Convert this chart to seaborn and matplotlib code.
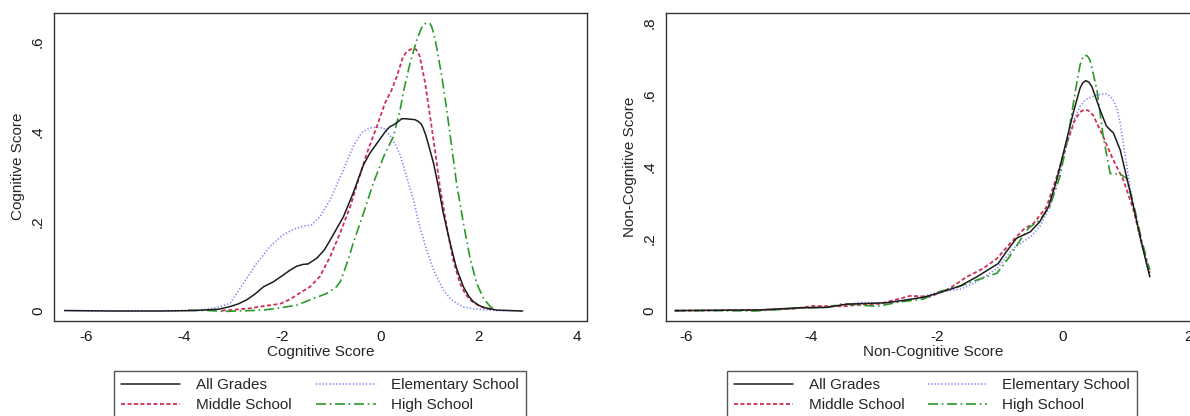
import numpy as np
import pandas as pd
import matplotlib
matplotlib.use("Agg")
import matplotlib.pyplot as plt
import seaborn as sns

# ---- Cognitive score densities (left panel) ----
cog_all_x = [-6.45, -5.5, -4.5, -3.8, -3.3, -3.07, -2.9, -2.73, -2.55, -2.39, -2.19, -1.99, -1.85,
             -1.71, -1.58, -1.48, -1.30, -1.15, -1.03, -0.76, -0.56, -0.35, -0.22, -0.05, 0.12,
             0.20, 0.26, 0.35, 0.43, 0.52, 0.60, 0.70, 0.77, 0.83, 0.87, 0.92, 0.97, 1.08, 1.18,
             1.28, 1.42, 1.55, 1.69, 1.80, 1.89, 2.00, 2.10, 2.37, 2.90]
cog_all_y = [0.001, 0.0, 0.0, 0.001, 0.004, 0.010, 0.016, 0.025, 0.039, 0.054, 0.065, 0.080, 0.091,
             0.100, 0.104, 0.105, 0.118, 0.136, 0.158, 0.210, 0.263, 0.326, 0.352, 0.378, 0.404,
             0.412, 0.415, 0.422, 0.429, 0.429, 0.428, 0.427, 0.423, 0.417, 0.408, 0.393, 0.374,
             0.330, 0.277, 0.218, 0.151, 0.095, 0.054, 0.033, 0.021, 0.013, 0.008, 0.002, 0.0]

cog_elem_x = [-6.45, -5.5, -4.5, -3.8, -3.4, -3.07, -2.80, -2.53, -2.26, -1.99, -1.85, -1.71,
              -1.55, -1.41, -1.24, -1.03, -0.76, -0.56, -0.39, -0.25, -0.15, -0.05, 0.06, 0.19,
              0.30, 0.40, 0.53, 0.67, 0.80, 0.94, 1.08, 1.28, 1.42, 1.55, 1.70, 1.89, 2.37, 2.90]
cog_elem_y = [0.001, 0.0, 0.0, 0.001, 0.006, 0.017, 0.062, 0.106, 0.144, 0.170, 0.178, 0.185,
              0.190, 0.192, 0.210, 0.248, 0.315, 0.367, 0.398, 0.407, 0.410, 0.410, 0.408, 0.392,
              0.372, 0.348, 0.300, 0.248, 0.188, 0.136, 0.092, 0.047, 0.028, 0.017, 0.009, 0.005,
              0.001, 0.0]

cog_mid_x = [-3.24, -3.07, -2.67, -2.39, -2.05, -1.85, -1.71, -1.44, -1.24, -1.03, -0.83, -0.62,
             -0.42, -0.28, -0.08, 0.09, 0.22, 0.33, 0.46, 0.53, 0.60, 0.66, 0.72, 0.76, 0.80,
             0.91, 1.01, 1.11, 1.21, 1.35, 1.48, 1.62, 1.72, 1.82, 2.03, 2.30]
cog_mid_y = [0.001, 0.002, 0.006, 0.011, 0.016, 0.026, 0.036, 0.054, 0.077, 0.121, 0.173, 0.233,
             0.304, 0.352, 0.411, 0.464, 0.492, 0.523, 0.568, 0.578, 0.583, 0.586, 0.584, 0.578,
             0.568, 0.508, 0.434, 0.359, 0.277, 0.188, 0.114, 0.062, 0.040, 0.025, 0.010, 0.002]

cog_high_x = [-3.93, -3.5, -3.2, -2.9, -2.39, -2.05, -1.71, -1.37, -1.10, -0.90, -0.82, -0.76,
              -0.66, -0.56, -0.35, -0.15, 0.06, 0.26, 0.33, 0.40, 0.46, 0.60, 0.74, 0.82, 0.87,
              0.92, 0.97, 1.01, 1.04, 1.09, 1.14, 1.25, 1.35, 1.45, 1.55, 1.69, 1.82, 1.96, 2.10,
              2.23, 2.30]
cog_high_y = [0.002, 0.001, -0.001, 0.0, 0.002, 0.007, 0.013, 0.028, 0.039, 0.054, 0.066, 0.084,
              0.115, 0.151, 0.218, 0.285, 0.344, 0.389, 0.419, 0.450, 0.486, 0.553, 0.605, 0.628,
              0.638, 0.642, 0.643, 0.641, 0.635, 0.617, 0.590, 0.523, 0.449, 0.367, 0.285, 0.196,
              0.121, 0.062, 0.028, 0.011, 0.005]

# ---- Non-cognitive score densities (right panel) ----
non_all_x = [-6.17, -5.5, -4.82, -4.18, -3.76, -3.44, -3.12, -2.80, -2.48, -2.22, -1.96, -1.64,
             -1.37, -1.03, -0.90, -0.74, -0.52, -0.37, -0.23, -0.10, 0.03, 0.16, 0.27, 0.31,
             0.36, 0.41, 0.46, 0.59, 0.69, 0.75, 0.80, 0.91, 1.01, 1.12, 1.25, 1.38]
non_all_y = [0.001, 0.002, 0.003, 0.009, 0.010, 0.019, 0.021, 0.023, 0.031, 0.038, 0.051, 0.069,
             0.095, 0.132, 0.165, 0.202, 0.220, 0.248, 0.290, 0.364, 0.456, 0.549, 0.619, 0.633,
             0.640, 0.636, 0.623, 0.558, 0.514, 0.503, 0.495, 0.447, 0.373, 0.290, 0.188, 0.095]

non_elem_x = [-6.17, -5.5, -4.82, -4.18, -3.76, -3.44, -3.2, -2.91, -2.6, -2.22, -1.96, -1.64,
              -1.37, -1.05, -0.79, -0.52, -0.37, -0.21, -0.07, 0.06, 0.19, 0.27, 0.35, 0.45, 0.54,
              0.62, 0.69, 0.75, 0.80, 0.86, 0.91, 0.99, 1.09, 1.22, 1.38]
non_elem_y = [0.001, 0.002, 0.003, 0.008, 0.010, 0.018, 0.024, 0.022, 0.028, 0.040, 0.054, 0.060,
              0.081, 0.118, 0.174, 0.206, 0.234, 0.290, 0.373, 0.466, 0.540, 0.568, 0.586, 0.595,
              0.600, 0.603, 0.603, 0.597, 0.586, 0.560, 0.521, 0.429, 0.318, 0.206, 0.095]

non_mid_x = [-6.17, -5.5, -4.82, -4.3, -3.97, -3.5, -3.2, -2.91, -2.43, -2.11, -1.80, -1.53,
             -1.27, -1.05, -0.84, -0.62, -0.47, -0.26, -0.10, 0.06, 0.19, 0.27, 0.35, 0.41, 0.48,
             0.64, 0.80, 0.96, 1.12, 1.25, 1.38]
non_mid_y = [0.001, 0.002, 0.003, 0.006, 0.014, 0.013, 0.018, 0.020, 0.042, 0.040, 0.063, 0.095,
             0.118, 0.146, 0.188, 0.228, 0.243, 0.290, 0.373, 0.466, 0.531, 0.553, 0.560, 0.556,
             0.544, 0.484, 0.419, 0.364, 0.281, 0.188, 0.105]

non_high_x = [-6.17, -5.5, -4.9, -4.5, -4.18, -3.76, -3.5, -3.2, -2.95, -2.6, -2.22, -1.96,
              -1.64, -1.37, -1.05, -0.87, -0.68, -0.55, -0.37, -0.21, -0.05, 0.08, 0.19, 0.27,
              0.31, 0.35, 0.39, 0.43, 0.54, 0.64, 0.75, 0.91, 1.01, 1.12, 1.25, 1.38]
non_high_y = [0.001, 0.001, 0.0, 0.004, 0.009, 0.010, 0.020, 0.016, 0.013, 0.025, 0.033, 0.054,
              0.069, 0.086, 0.105, 0.146, 0.197, 0.230, 0.253, 0.290, 0.373, 0.484, 0.605, 0.683,
              0.703, 0.711, 0.708, 0.697, 0.614, 0.484, 0.382, 0.380, 0.369, 0.299, 0.197, 0.114]

groups = ["All Grades", "Middle School", "Elementary School", "High School"]
left_ticks_x = [-6, -4, -2, 0, 2, 4]
left_ticks_y = [0, 0.2, 0.4, 0.6]
left_tick_labels_y = ["0", ".2", ".4", ".6"]
right_ticks_x = [-6, -4, -2, 0, 2]
right_ticks_y = [0, 0.2, 0.4, 0.6, 0.8]
right_tick_labels_y = ["0", ".2", ".4", ".6", ".8"]

styles = {
    "All Grades": dict(color="#1c1c1c", linestyle="-", linewidth=1.1),
    "Middle School": dict(color="#cf2f55", linestyle=(0, (2.2, 1.4)), linewidth=1.3),
    "Elementary School": dict(color="#8585ff", linestyle=(0, (0.8, 1.2)), linewidth=1.2),
    "High School": dict(color="#2b9a2b", linestyle=(0, (6, 2.2, 1, 2.2)), linewidth=1.2),
}

sns.set_theme(style="white")
plt.rcParams["font.family"] = ["Liberation Sans", "DejaVu Sans"]

FS = 11
fig = plt.figure(figsize=(11.9, 4.16), dpi=100)
W, H = 1190.0, 416.0
ax1 = fig.add_axes([54 / W, 1 - 320.5 / H, (586.7 - 54) / W, (320.5 - 13) / H])
ax2 = fig.add_axes([665.5 / W, 1 - 320.5 / H, (1201.4 - 665.5) / W, (320.5 - 13) / H])

left_data = {
    "All Grades": (cog_all_x, cog_all_y),
    "Middle School": (cog_mid_x, cog_mid_y),
    "Elementary School": (cog_elem_x, cog_elem_y),
    "High School": (cog_high_x, cog_high_y),
}
right_data = {
    "All Grades": (non_all_x, non_all_y),
    "Middle School": (non_mid_x, non_mid_y),
    "Elementary School": (non_elem_x, non_elem_y),
    "High School": (non_high_x, non_high_y),
}

# draw order: group densities first, the overall density on top
draw_order = ["Elementary School", "Middle School", "High School", "All Grades"]


def draw_panel(ax, data, xlabel, xlim, ylim, xt, yt, ytl):
    for g in draw_order:
        xs, ys = data[g]
        df = pd.DataFrame({"score": xs, "density": ys})
        sns.lineplot(data=df, x="score", y="density", ax=ax, sort=False,
                     estimator=None, label=g, **styles[g])
    ax.set_xlim(*xlim)
    ax.set_ylim(*ylim)
    ax.set_xticks(xt)
    ax.set_xticklabels([str(t) for t in xt])
    ax.set_yticks(yt)
    ax.set_yticklabels(ytl, rotation=90, va="center")
    ax.set_xlabel(xlabel, fontsize=FS, labelpad=1)
    ax.set_ylabel(xlabel, fontsize=FS, labelpad=4)
    ax.tick_params(axis="both", direction="out", length=4.5, width=0.9,
                   colors="#1a1a1a", labelsize=FS, pad=2)
    for s in ax.spines.values():
        s.set_color("#333333")
        s.set_linewidth(1.0)
        s.set_visible(True)
    if ax.get_legend() is not None:
        ax.get_legend().remove()


draw_panel(ax1, left_data, "Cognitive Score", (-6.665, 4.206), (-0.0212, 0.665),
           left_ticks_x, left_ticks_y, left_tick_labels_y)
draw_panel(ax2, right_data, "Non-Cognitive Score", (-6.32, 2.2), (-0.0264, 0.828),
           right_ticks_x, right_ticks_y, right_tick_labels_y)

for ax, (x0, x1) in [(ax1, (114, 525.5)), (ax2, (726.8, 1137))]:
    h, l = ax.get_legend_handles_labels()
    lookup = dict(zip(l, h))
    handles = [lookup[g] for g in groups]
    fig.legend(handles, groups, ncol=2, loc="upper left", mode="expand",
               bbox_to_anchor=(x0 / W, 1 - 371 / H, (x1 - x0) / W, 0.0),
               frameon=True, fancybox=False, edgecolor="#555555", framealpha=1,
               fontsize=FS, handlelength=3.9, handletextpad=1.0,
               borderpad=0.45, labelspacing=0.42, borderaxespad=0)

fig.savefig("out.png", dpi=100)
